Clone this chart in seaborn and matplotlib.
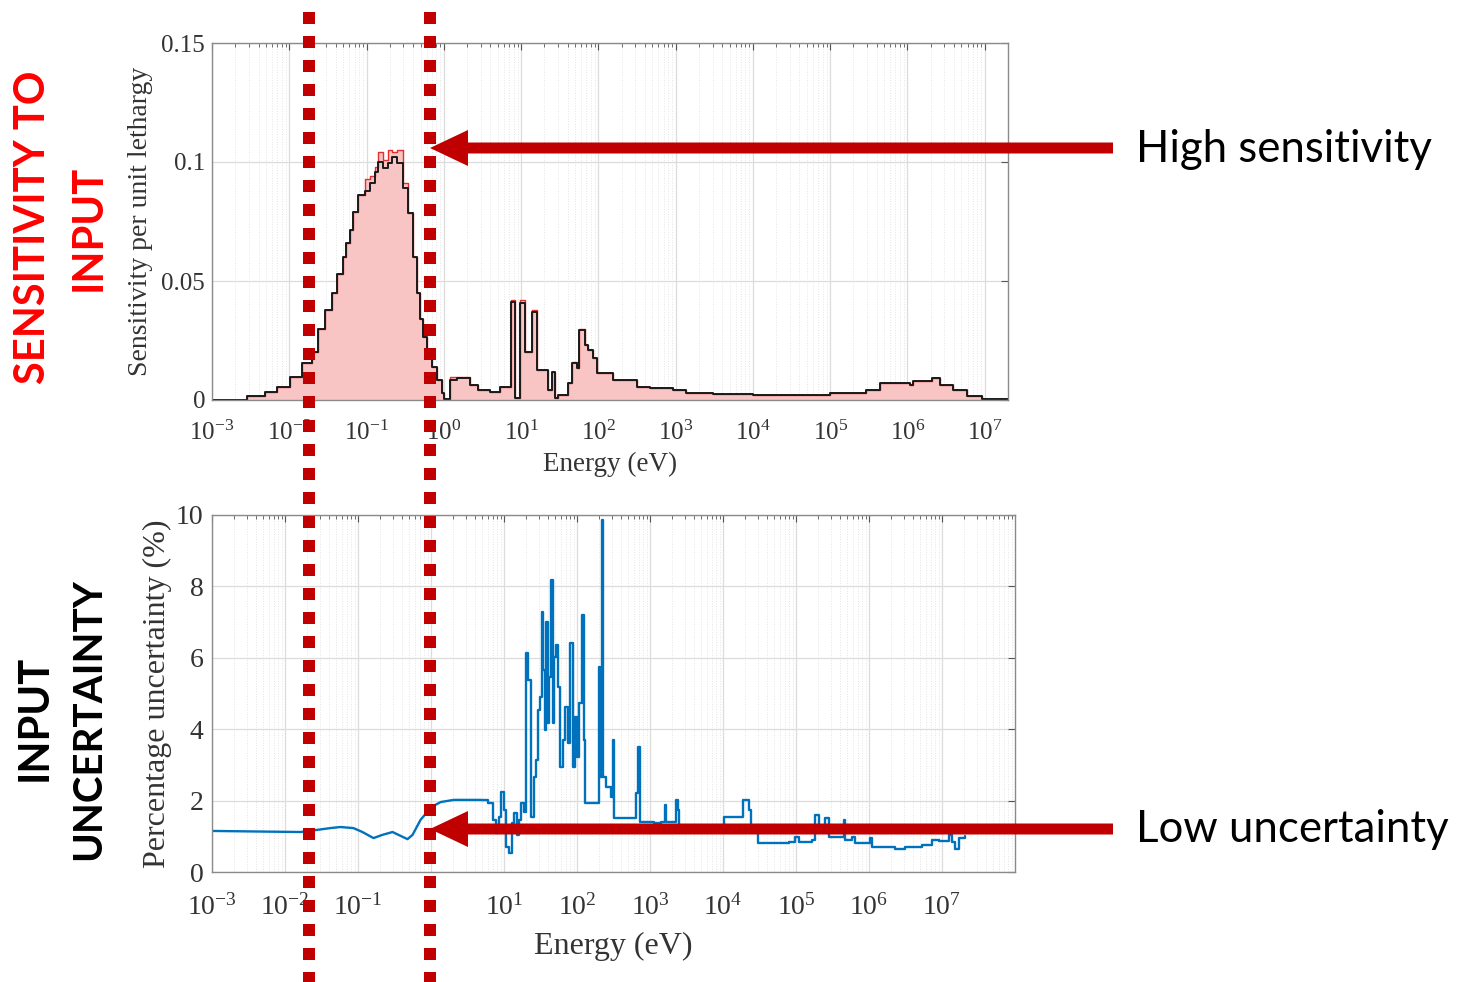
import numpy as np
import pandas as pd
import matplotlib.pyplot as plt
import seaborn as sns
from matplotlib.lines import Line2D
from matplotlib.patches import FancyArrow
from matplotlib.ticker import LogLocator, NullFormatter

# ---------------- data ----------------
# top panel: group boundaries (eV) and sensitivity per unit lethargy
group_edges = [1e-3, 0.0028, 0.0049, 0.0069, 0.0102, 0.0145, 0.0195, 0.0234, 0.0288, 0.0355,
               0.0417, 0.049, 0.055, 0.0617, 0.066, 0.0776, 0.0955, 0.11, 0.129, 0.141,
               0.162, 0.19, 0.214, 0.245, 0.295, 0.347, 0.398, 0.447, 0.49, 0.537,
               0.603, 0.708, 0.813, 0.955, 1.02, 1.2, 1.48, 2.18, 2.75, 3.98,
               5.37, 7.4, 8.3, 9.6, 11.2, 13.8, 15.9, 22, 25, 27.5,
               30, 40.7, 45.7, 52.5, 56, 67, 72.4, 85, 95.5, 155,
               316, 468, 912, 1380, 3000, 1e4, 3e4, 1e5, 2.95e5, 4.4e5,
               5.9e5, 1.07e6, 1.17e6, 2.1e6, 2.6e6, 3.9e6, 5.9e6, 9.3e6, 2e7]

sens_black = [0.0, 0.0017, 0.0034, 0.0055, 0.0097, 0.0155, 0.020, 0.030, 0.038, 0.045,
              0.053, 0.060, 0.066, 0.0714, 0.079, 0.086, 0.088, 0.091, 0.0958, 0.100,
              0.0975, 0.0995, 0.102, 0.0995, 0.089, 0.0785, 0.060, 0.045, 0.034, 0.0265,
              0.021, 0.014, 0.0084, 0.003, 0.0003, 0.0084, 0.0092, 0.0063, 0.0042, 0.0034,
              0.0055, 0.041, 0.001, 0.0407, 0.020, 0.037, 0.0126, 0.004, 0.0118, 0.001,
              0.002, 0.007, 0.0155, 0.0134, 0.0294, 0.023, 0.021, 0.0176, 0.0113, 0.0084,
              0.0055, 0.005, 0.0042, 0.003, 0.0025, 0.002, 0.0022, 0.0028, 0.0042, 0.007,
              0.0072, 0.0065, 0.008, 0.0092, 0.0063, 0.0042, 0.0017, 0.0005]

sens_red = [0.0, 0.0017, 0.0034, 0.0055, 0.0097, 0.0155, 0.020, 0.030, 0.038, 0.045,
            0.053, 0.060, 0.066, 0.0714, 0.079, 0.086, 0.093, 0.094, 0.098, 0.104,
            0.101, 0.105, 0.104, 0.105, 0.091, 0.0785, 0.060, 0.045, 0.034, 0.0265,
            0.021, 0.014, 0.0084, 0.003, 0.0003, 0.0095, 0.0098, 0.0063, 0.0042, 0.0034,
            0.0055, 0.042, 0.001, 0.042, 0.020, 0.038, 0.0126, 0.004, 0.0118, 0.001,
            0.002, 0.007, 0.016, 0.0134, 0.030, 0.023, 0.021, 0.0176, 0.0113, 0.0084,
            0.0055, 0.005, 0.0042, 0.003, 0.0025, 0.002, 0.0022, 0.0028, 0.0042, 0.007,
            0.0072, 0.0065, 0.008, 0.0092, 0.0063, 0.0042, 0.0017, 0.0005]

# bottom panel: percentage uncertainty vs energy
unc_energy = [1e-3, 0.0163, 0.0277, 0.0418, 0.0573, 0.0865, 0.115, 0.163, 0.216, 0.297,
              0.359, 0.477, 0.559, 0.719, 1.01, 1.36, 2.04, 4.8, 5.98, 7.0,
              7.7, 8.5, 9.04, 9.94, 10.6, 11.6, 12.8, 13.6, 15.0, 16.0,
              17.0, 18.7, 19.9, 21.2, 23.3, 25.6, 27.3, 29.1, 31.0, 33.0,
              34.1, 36.3, 37.5, 40.0, 41.2, 43.9, 46.8, 48.3, 51.5, 54.8,
              58.4, 64.2, 68.4, 75.2, 80.2, 88.1, 94.0, 100, 106, 117,
              125, 129, 194, 199, 207, 220, 228, 250, 293, 312,
              322, 607, 646, 688, 733, 1142, 1425, 1618, 1670, 2150,
              2290, 2440, 2520, 5050, 10450, 17900, 19050, 20960, 23060, 24550,
              30640, 46200, 79100, 95700, 1.09e5, 1.64e5, 1.80e5, 2.04e5, 2.47e5, 2.80e5,
              3.39e5, 4.51e5, 4.65e5, 5.81e5, 6.38e5, 9.94e5, 1.03e6, 1.09e6, 2.26e6, 3.10e6,
              5.31e6, 7.29e6, 9.1e6, 1.25e7, 1.37e7, 1.51e7, 1.71e7, 2.07e7]

unc_percent = [1.15, 1.12, 1.18, 1.23, 1.26, 1.23, 1.12, 0.95, 1.04, 1.12,
               1.04, 0.92, 1.04, 1.46, 1.82, 1.96, 2.02, 2.02, 1.93, 1.46,
               1.09, 1.54, 2.24, 1.74, 0.70, 0.53, 1.37, 1.65, 1.04, 1.46,
               1.93, 1.68, 6.13, 5.38, 1.54, 2.66, 3.14, 4.54, 4.90, 7.28,
               5.66, 3.98, 7.0, 4.17, 5.46, 8.18, 4.17, 6.02, 6.36, 5.18,
               2.94, 3.70, 4.62, 3.61, 6.41, 2.94, 4.34, 3.22, 4.73, 7.20,
               3.70, 1.93, 1.93, 5.74, 2.66, 9.86, 2.66, 2.38, 2.10, 3.70,
               1.51, 1.51, 2.21, 3.50, 1.40, 1.37, 1.40, 1.88, 1.40, 1.40,
               2.02, 1.74, 1.26, 1.26, 1.54, 1.54, 2.02, 2.02, 1.74, 1.26,
               0.81, 0.81, 0.84, 0.98, 0.84, 0.90, 1.60, 1.12, 1.51, 0.98,
               0.98, 1.46, 0.90, 0.98, 0.81, 0.81, 0.95, 0.70, 0.64, 0.70,
               0.76, 0.90, 0.88, 1.04, 0.84, 0.64, 0.95, 1.01]

# above this energy the uncertainty data is a group-wise (stepped) curve
resonance_start = 4.8

sens_ticks = [0, 0.05, 0.1, 0.15]
sens_tick_labels = ['0', '0.05', '0.1', '0.15']
unc_ticks = [0, 2, 4, 6, 8, 10]
decade_ticks = [1e-3, 1e-2, 1e-1, 1e0, 1e1, 1e2, 1e3, 1e4, 1e5, 1e6, 1e7]
decade_labels = [r'$\mathdefault{10^{%d}}$' % p for p in range(-3, 8)]
# the 10^0 label of the lower panel is not shown in the reference
decade_labels_bottom = [lab if p != 0 else '' for p, lab in zip(range(-3, 8), decade_labels)]

# ---------------- style ----------------
sns.set_style("white")
plt.rcParams['font.family'] = ['Liberation Serif', 'DejaVu Serif']
plt.rcParams['mathtext.fontset'] = 'stix'

W, H = 1466, 982
fig = plt.figure(figsize=(W / 100, H / 100), dpi=100)
ax1 = fig.add_axes([212 / W, 1 - 400 / H, (1008 - 212) / W, 357 / H])
ax2 = fig.add_axes([212 / W, 1 - 872 / H, (1015 - 212) / W, 357 / H])

text_col = '#333333'


def style_axes(ax, tick_size, xpad, ypad, xlabels):
    ax.set_xscale('log')
    ax.set_xticks(decade_ticks)
    ax.set_xticklabels(xlabels)
    ax.xaxis.set_minor_locator(LogLocator(base=10, subs=np.arange(2, 10), numticks=200))
    ax.xaxis.set_minor_formatter(NullFormatter())
    ax.grid(True, which='major', color='#dcdcdc', lw=0.9)
    ax.grid(True, which='minor', axis='x', color='#e4e4e4', lw=0.7, ls=':')
    ax.set_axisbelow(True)
    ax.tick_params(which='both', direction='in', top=True, right=True,
                   labelsize=tick_size, colors='#555555', labelcolor=text_col)
    ax.tick_params(which='major', length=5, width=0.8)
    ax.tick_params(which='minor', length=3, width=0.6)
    ax.tick_params(axis='x', which='both', pad=xpad)
    ax.tick_params(axis='y', which='both', pad=ypad)
    for s in ax.spines.values():
        s.set_color('#8a8a8a')
        s.set_linewidth(1.0)


# ---------------- top: sensitivity ----------------
black_steps = sens_black + [sens_black[-1]]
red_steps = sens_red + [sens_red[-1]]
ax1.fill_between(group_edges, red_steps, step='post', color='#f9c4c4', lw=0)
sns.lineplot(x=group_edges, y=red_steps, ax=ax1, color='#e03030', lw=1.0,
             drawstyle='steps-post', estimator=None, sort=False)
sns.lineplot(x=group_edges, y=black_steps, ax=ax1, color='#1a1a1a', lw=1.4,
             drawstyle='steps-post', estimator=None, sort=False)
style_axes(ax1, 18, 15, 5, decade_labels)
ax1.set_xlim(1e-3, 2e7)
ax1.set_ylim(0, 0.15)
ax1.set_yticks(sens_ticks)
ax1.set_yticklabels(sens_tick_labels)
ax1.set_xlabel('Energy (eV)', fontsize=19.5, color=text_col, labelpad=5)
ax1.set_ylabel('Sensitivity per unit lethargy', fontsize=20, color=text_col, labelpad=6)

# ---------------- bottom: uncertainty ----------------
df_unc = pd.DataFrame({'energy': unc_energy, 'unc': unc_percent})
smooth_part = df_unc[df_unc['energy'] <= resonance_start]
stepped_part = df_unc[df_unc['energy'] >= resonance_start]
sns.lineplot(data=smooth_part, x='energy', y='unc', ax=ax2, color='#0072BD', lw=1.7,
             estimator=None, sort=False)
sns.lineplot(data=stepped_part, x='energy', y='unc', ax=ax2, color='#0072BD', lw=1.7,
             drawstyle='steps-post', estimator=None, sort=False)
style_axes(ax2, 20, 16, 6, decade_labels_bottom)
ax2.set_xlim(1e-3, 1e8)
ax2.set_ylim(0, 10)
ax2.set_yticks(unc_ticks)
ax2.set_xlabel('Energy (eV)', fontsize=23, color=text_col, labelpad=8)
ax2.set_ylabel('Percentage uncertainty (%)', fontsize=23, color=text_col, labelpad=3)

# ---------------- overlay annotations (figure pixels) ----------------
red_dark = '#c00000'
for xp in [308.7, 429.5]:
    fig.add_artist(Line2D([xp / W, xp / W], [1, 0], transform=fig.transFigure,
                          color=red_dark, lw=8.64, ls=(1, (1, 1)),
                          solid_capstyle='butt', dash_capstyle='butt'))

for yp in [148, 829]:
    fig.add_artist(FancyArrow(1113 / W, 1 - yp / H, (430 - 1113) / W, 0,
                              width=11 / H, head_width=36 / H, head_length=38 / W,
                              length_includes_head=True, transform=fig.transFigure,
                              color=red_dark, lw=0))

fig.text(1136 / W, 1 - 150 / H, 'High sensitivity', family='Lato', fontsize=31.5,
         color='black', ha='left', va='center')
fig.text(1136 / W, 1 - 830 / H, 'Low uncertainty', family='Lato', fontsize=31.5,
         color='black', ha='left', va='center')

fig.text(33 / W, 1 - 227 / H, 'SENSITIVITY TO', family='Lato', fontweight='bold',
         fontsize=30, color='#ff0000', rotation=90, ha='center', va='center')
fig.text(89 / W, 1 - 228 / H, 'INPUT', family='Lato', fontweight='bold',
         fontsize=30, color='#ff0000', rotation=90, ha='center', va='center')
fig.text(35 / W, 1 - 718 / H, 'INPUT', family='Lato', fontweight='bold',
         fontsize=30, color='black', rotation=90, ha='center', va='center')
fig.text(89 / W, 1 - 719 / H, 'UNCERTAINTY', family='Lato', fontweight='bold',
         fontsize=29, color='black', rotation=90, ha='center', va='center')

fig.savefig('out.png', dpi=100)
